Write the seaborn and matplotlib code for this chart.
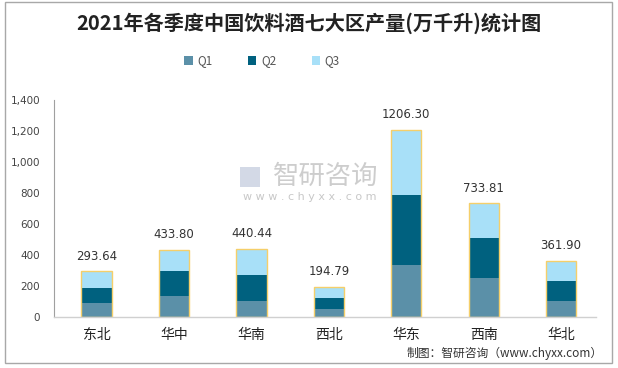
import numpy as np
import matplotlib.pyplot as plt
import seaborn as sns
import pandas as pd
from matplotlib.patches import Patch, Rectangle
from matplotlib.ticker import FuncFormatter

# 各季度饮料酒产量（万千升）
regions = ["东北", "华中", "华南", "西北", "华东", "西南", "华北"]
q1 = [92, 135, 103, 52, 337, 252, 103]
q2 = [95, 162, 168, 71, 450, 258, 129]
totals = [293.64, 433.80, 440.44, 194.79, 1206.30, 733.81, 361.90]
q3 = [round(t - a - b, 2) for t, a, b in zip(totals, q1, q2)]

series_names = ["Q1", "Q2", "Q3"]
colors = ["#5B90A8", "#00617F", "#A8E0F8"]
edge_gold = "#F5CF6A"

df = pd.DataFrame({"region": regions, "Q1": q1, "Q2": q2, "Q3": q3})
df["cum2"] = df["Q1"] + df["Q2"]
df["cum3"] = df["cum2"] + df["Q3"]

sns.set_style("white")
plt.rcParams['font.family'] = ['Noto Sans CJK SC', 'DejaVu Sans']

fig = plt.figure(figsize=(6.18, 3.68), dpi=100)
ax = fig.add_axes([54 / 618, 1 - 317 / 368, (596 - 54) / 618, (317 - 100) / 368])

# gestapelte Balken: von oben nach unten übereinander zeichnen
w = 0.39
sns.barplot(data=df, x="region", y="cum3", color=colors[2], width=w, linewidth=0, saturation=1, ax=ax)
sns.barplot(data=df, x="region", y="cum2", color=colors[1], width=w, linewidth=0, saturation=1, ax=ax)
sns.barplot(data=df, x="region", y="Q1", color=colors[0], width=w, linewidth=0, saturation=1, ax=ax)
sns.barplot(data=df, x="region", y="cum3", fill=False, edgecolor=edge_gold, width=w, linewidth=1.0, ax=ax)

for i, t in enumerate(totals):
    ax.text(i, t + 55, f"{t:.2f}", ha="center", va="bottom", fontsize=8.5,
            color="#333333", family=["DejaVu Sans"])

ax.set_ylim(0, 1400)
ax.set_yticks(np.arange(0, 1401, 200))
ax.yaxis.set_major_formatter(FuncFormatter(lambda v, p: f"{int(v):,}"))
ax.set_xlim(-0.55, 6.45)
ax.set_xlabel("")
ax.set_ylabel("")
ax.tick_params(axis="y", labelsize=7.5, colors="#444444", length=0, pad=10)
ax.tick_params(axis="x", labelsize=10, colors="#222222", length=0, pad=8)
for lab in ax.get_yticklabels():
    lab.set_family("DejaVu Sans")
for s in ["top", "right"]:
    ax.spines[s].set_visible(False)
ax.spines["left"].set_color("#A0A0A0")
ax.spines["bottom"].set_color("#D0D0D0")
ax.spines["left"].set_linewidth(0.8)
ax.spines["bottom"].set_linewidth(1.0)

handles = [Patch(facecolor=c, edgecolor="none") for c in colors]
leg = fig.legend(handles, series_names, loc="center", bbox_to_anchor=(262 / 618, 1 - 61 / 368),
                 ncol=3, frameon=False, fontsize=8.5, handlelength=0.7, handleheight=0.7,
                 columnspacing=3.0, handletextpad=0.4)
for t in leg.get_texts():
    t.set_color("#555555")

fig.text(309 / 618, 1 - 23 / 368, "2021年各季度中国饮料酒七大区产量(万千升)统计图",
         ha="center", va="center", fontsize=14.5, fontweight="bold", color="#222222")

# Wasserzeichen
fig.text(326 / 618, 1 - 176 / 368, "智研咨询", ha="center", va="center", fontsize=19,
         color="#C8C8C8", alpha=0.9)
fig.text(310 / 618, 1 - 197 / 368, "w w w . c h y x x . c o m", ha="center", va="center",
         fontsize=8, color="#C8C8C8", family=["DejaVu Sans"])
fig.patches.append(Rectangle((240 / 618, 1 - 187 / 368), 20 / 618, 20 / 368, transform=fig.transFigure,
                             facecolor="#C8D0E0", edgecolor="none", alpha=0.8))

fig.text(603 / 618, 1 - 353 / 368, "制图：智研咨询（www.chyxx.com）", ha="right", va="center",
         fontsize=8.5, color="#333333")

# äußerer Rahmen
fig.patches.append(Rectangle((5 / 618, 1 - 363 / 368), 607 / 618, 361 / 368, transform=fig.transFigure,
                             facecolor="none", edgecolor="#A8A8A8", linewidth=1.0))

fig.savefig("out.png", dpi=100)
